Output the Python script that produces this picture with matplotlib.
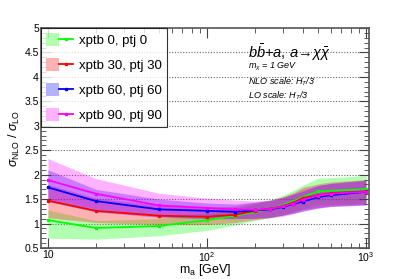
import numpy as np
import matplotlib
matplotlib.use("Agg")
import matplotlib.pyplot as plt
from matplotlib.patches import Patch
from matplotlib.lines import Line2D
from matplotlib.legend_handler import HandlerTuple
from matplotlib.ticker import MultipleLocator, LogLocator, NullFormatter

plt.rcParams['font.family'] = ['Liberation Sans', 'DejaVu Sans']
plt.rcParams['mathtext.fontset'] = 'custom'
plt.rcParams['mathtext.rm'] = 'Liberation Sans'
plt.rcParams['mathtext.it'] = 'Liberation Sans:italic'

# mass points [GeV]
ma = [10, 20, 50, 100, 150, 200, 250, 300, 350, 400, 500, 600, 1000]

# ptj 0
k0 = [1.07, 0.91, 0.95, 1.07, 1.16, 1.24, 1.30, 1.38, 1.46, 1.54, 1.66, 1.67, 1.70]
k0_lo = [0.70, 0.68, 0.75, 0.86, 0.97, 1.06, 1.12, 1.18, 1.24, 1.30, 1.38, 1.39, 1.41]
k0_hi = [1.28, 1.06, 1.10, 1.22, 1.31, 1.40, 1.48, 1.58, 1.68, 1.78, 1.93, 1.94, 1.98]

# ptj 30
k30 = [1.47, 1.26, 1.16, 1.14, 1.18, 1.26, 1.30, 1.36, 1.43, 1.52, 1.58, 1.62, 1.66]
k30_lo = [1.12, 1.02, 0.98, 0.98, 1.02, 1.08, 1.12, 1.17, 1.22, 1.28, 1.33, 1.36, 1.39]
k30_hi = [1.80, 1.52, 1.38, 1.33, 1.36, 1.43, 1.48, 1.55, 1.63, 1.74, 1.81, 1.85, 1.90]

# ptj 60
k60 = [1.74, 1.46, 1.29, 1.26, 1.24, 1.27, 1.29, 1.34, 1.40, 1.45, 1.54, 1.58, 1.65]
k60_lo = [1.45, 1.24, 1.13, 1.10, 1.10, 1.11, 1.13, 1.17, 1.21, 1.25, 1.32, 1.35, 1.38]
k60_hi = [2.10, 1.70, 1.50, 1.42, 1.40, 1.44, 1.47, 1.53, 1.60, 1.66, 1.78, 1.82, 1.89]

# ptj 90
k90 = [1.89, 1.61, 1.37, 1.32, 1.29, 1.28, 1.30, 1.35, 1.41, 1.49, 1.57, 1.61, 1.65]
k90_lo = [1.50, 1.30, 1.16, 1.12, 1.11, 1.10, 1.12, 1.15, 1.20, 1.26, 1.31, 1.35, 1.38]
k90_hi = [2.33, 1.92, 1.62, 1.52, 1.48, 1.46, 1.48, 1.54, 1.61, 1.70, 1.78, 1.82, 1.88]

labels = ["xptb 0, ptj 0", "xptb 30, ptj 30", "xptb 60, ptj 60", "xptb 90, ptj 90"]
colors = ["#00ff00", "#ff0000", "#0000ff", "#ff00ff"]
series = [(k0, k0_lo, k0_hi), (k30, k30_lo, k30_hi),
          (k60, k60_lo, k60_hi), (k90, k90_lo, k90_hi)]

fig = plt.figure(figsize=(4.11, 2.79), dpi=100)
ax = fig.add_axes([41/411, 31/279, 328/411, 220/279])

handles = []
for (y, lo, hi), c, lab in zip(series, colors, labels):
    ax.fill_between(ma, lo, hi, color=c, alpha=0.3, lw=0)
    ax.plot(ma, y, color=c, lw=1.3, marker='s', ms=2)
    handles.append((Patch(facecolor=c, alpha=0.3, lw=0),
                    Line2D([], [], color=c, lw=1.3, marker='s', ms=2)))

ax.set_xscale('log')
ax.set_xlim(9.05, 1045)
ax.set_ylim(0.5, 5)

for v in np.arange(1.0, 5.0, 0.5):
    ax.axhline(v, color='#666666', ls=(0, (1, 1.5)), lw=0.8, zorder=0)

ax.yaxis.set_major_locator(MultipleLocator(0.5))
ax.yaxis.set_minor_locator(MultipleLocator(0.1))
ax.xaxis.set_minor_locator(LogLocator(base=10, subs=np.arange(2, 10)))
ax.xaxis.set_minor_formatter(NullFormatter())
ax.set_xticks([10, 100, 1000])
ax.set_xticklabels(["10", r"$10^2$", r"$10^3$"])
ax.set_yticks([0.5, 1, 1.5, 2, 2.5, 3, 3.5, 4, 4.5, 5])
ax.set_yticklabels(["0.5", "1", "1.5", "2", "2.5", "3", "3.5", "4", "4.5", "5"])

ax.tick_params(which='both', direction='in', top=True, right=True,
               labelsize=7.5, color='#444444', pad=1.5)
ax.tick_params(which='major', length=7, width=0.8)
ax.tick_params(which='minor', length=3.5, width=0.6)
for s in ax.spines.values():
    s.set_color('#555555')
    s.set_linewidth(1.2)

ax.set_xlabel(r"m$_{\rm a}$ [GeV]", fontsize=9, labelpad=-1)
ax.set_ylabel(r"$\sigma_{\rm NLO}$ / $\sigma_{\rm LO}$", fontsize=9, labelpad=2)

leg = ax.legend(handles, labels, handler_map={tuple: HandlerTuple(ndivide=None, pad=0)},
                loc='upper left', bbox_to_anchor=(0, 1), borderaxespad=0,
                fontsize=9.5, frameon=True, fancybox=False, edgecolor='black',
                handlelength=2.0, handleheight=1.1, labelspacing=0.85,
                handletextpad=0.5, borderpad=0.4)
leg.get_frame().set_linewidth(0.8)

ax.text(0.63, 0.89, r"$b\bar{b}$+$a$, $a\!\rightarrow\!\chi\bar{\chi}$", transform=ax.transAxes,
        fontsize=10.5, ha='left', va='center')
ax.text(0.63, 0.822, r"$m_\chi$ = 1 GeV", transform=ax.transAxes,
        fontsize=6.5, style='italic', ha='left', va='center')
ax.text(0.63, 0.757, r"NLO scale: $H_T$/3", transform=ax.transAxes,
        fontsize=6.5, style='italic', ha='left', va='center')
ax.text(0.63, 0.694, r"LO scale: $H_T$/3", transform=ax.transAxes,
        fontsize=6.5, style='italic', ha='left', va='center')

fig.savefig("out.png", dpi=100)
